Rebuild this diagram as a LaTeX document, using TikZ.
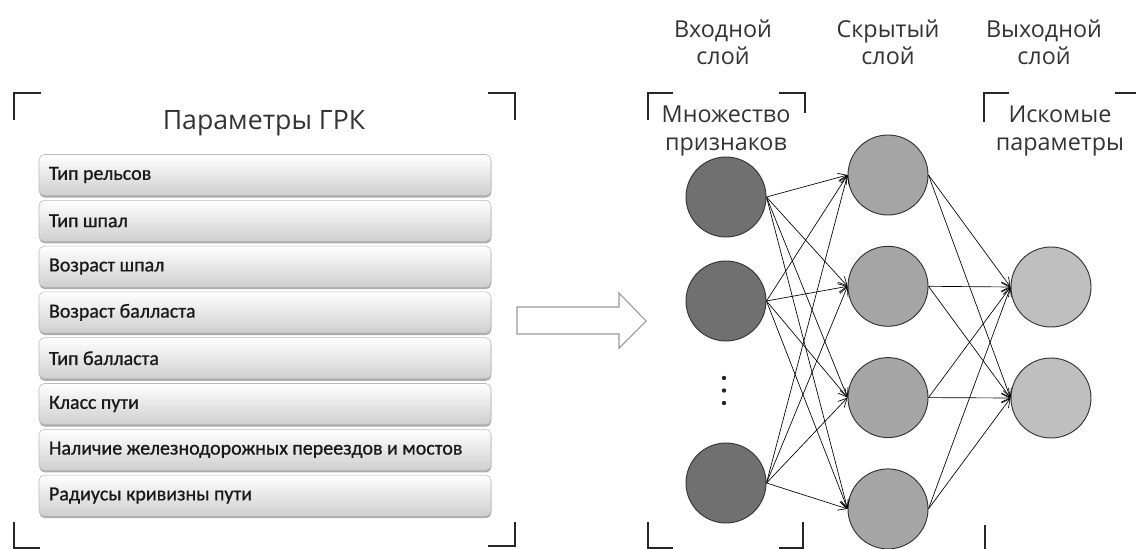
\documentclass[tikz,border=0pt]{standalone}
\usepackage{fontspec}
\setmainfont{Open Sans}
\newfontfamily\listfont{Carlito}[RawFeature={embolden=0.8}]
\usetikzlibrary{shadows,arrows.meta}

\definecolor{txtgray}{HTML}{333333}
\definecolor{incol}{HTML}{707070}
\definecolor{hidcol}{HTML}{A5A5A5}
\definecolor{outcol}{HTML}{BFBFBF}

\tikzset{
  parambox/.style={draw=gray!55, rounded corners=4pt, top color=white,
    bottom color=gray!38, minimum width=339pt, minimum height=30.75pt,
    text width=324pt, inner xsep=7.5pt, align=left, text=black!90,
    drop shadow={shadow xshift=0.3pt, shadow yshift=-1.6pt, opacity=0.65}},
  bracket/.style={line width=2.2pt, color=black!85},
  neuron/.style={circle, draw=black!80, line width=0.7pt, minimum size=60pt, inner sep=0pt},
  conn/.style={line width=0.5pt, -{Straight Barb[length=6.5pt,width=6.5pt]}},
  layerlabel/.style={align=center, text=txtgray, font=\fontsize{17.5}{20.5}\selectfont},
}

\begin{document}
\begin{tikzpicture}[x=0.75pt,y=-0.75pt]
\useasboundingbox (0,0) rectangle (1136,549);

% parameters panel
\draw[bracket] (14,120) -- (14,93) -- (41,93);
\draw[bracket] (488,93) -- (515,93) -- (515,120);
\draw[bracket] (14,522) -- (14,548) -- (40,548);
\draw[bracket] (488,546) -- (515,546) -- (515,522);
\node[text=txtgray, font=\fontsize{20}{24}\selectfont] (title) at (264,123) {Параметры ГРК};
\foreach \t [count=\i] in {Тип рельсов, Тип шпал, Возраст шпал, Возраст балласта,
  Тип балласта, Класс пути, Наличие железнодорожных переездов и мостов, Радиусы кривизны пути}
  \node[parambox] (p\i) at (265,{175+45.8*(\i-1)}) {\listfont\fontsize{15}{18}\selectfont\t};

% big arrow
\draw[line width=0.8pt, draw=gray!80, fill=white] (517,307) -- (619,307) -- (619,293)
  -- (646,321) -- (619,348) -- (619,334) -- (517,334) -- cycle;

% layer titles
\node[layerlabel] (inlbl) at (723,42) {Входной\\слой};
\node[layerlabel] (hidlbl) at (888,42) {Скрытый\\слой};
\node[layerlabel] (outlbl) at (1044,42) {Выходной\\слой};

% input bracket
\draw[bracket] (648,120) -- (648,93) -- (673,93);
\draw[bracket] (779,93) -- (805,93) -- (805,113);
\draw[bracket] (648,522) -- (648,548) -- (673,548);
\draw[bracket] (779,548) -- (803,548) -- (803,522);
\node[layerlabel] (inset) at (726,131) {Множество\\признаков};

% output bracket
\draw[bracket] (984,122) -- (984,93) -- (1009,93);
\draw[bracket] (1115,93) -- (1136,93);
\draw[bracket] (985,525) -- (985,549);
\node[layerlabel] (outset) at (1060,131) {Искомые\\параметры};

% neurons
\node[neuron, fill=incol] (in1) at (726,197) {};
\node[neuron, fill=incol] (in2) at (726,301) {};
\node[neuron, fill=incol] (in3) at (726,483) {};
\foreach \i in {1,2,3}
  \fill[black!85] (724,{378+12.5*(\i-1)}) circle (2.2);
\foreach \j in {1,...,4}
  \node[neuron, fill=hidcol] (h\j) at (888,{175+111.3*(\j-1)}) {};
\node[neuron, fill=outcol] (o1) at (1051,287) {};
\node[neuron, fill=outcol] (o2) at (1051,398) {};

% connections
\foreach \i in {1,2,3}
  \foreach \j in {1,...,4}
    \draw[conn] (in\i.east) -- (h\j.west);
\foreach \j in {1,...,4}
  \foreach \k in {1,2}
    \draw[conn] (h\j.east) -- (o\k.west);
\end{tikzpicture}
\end{document}
